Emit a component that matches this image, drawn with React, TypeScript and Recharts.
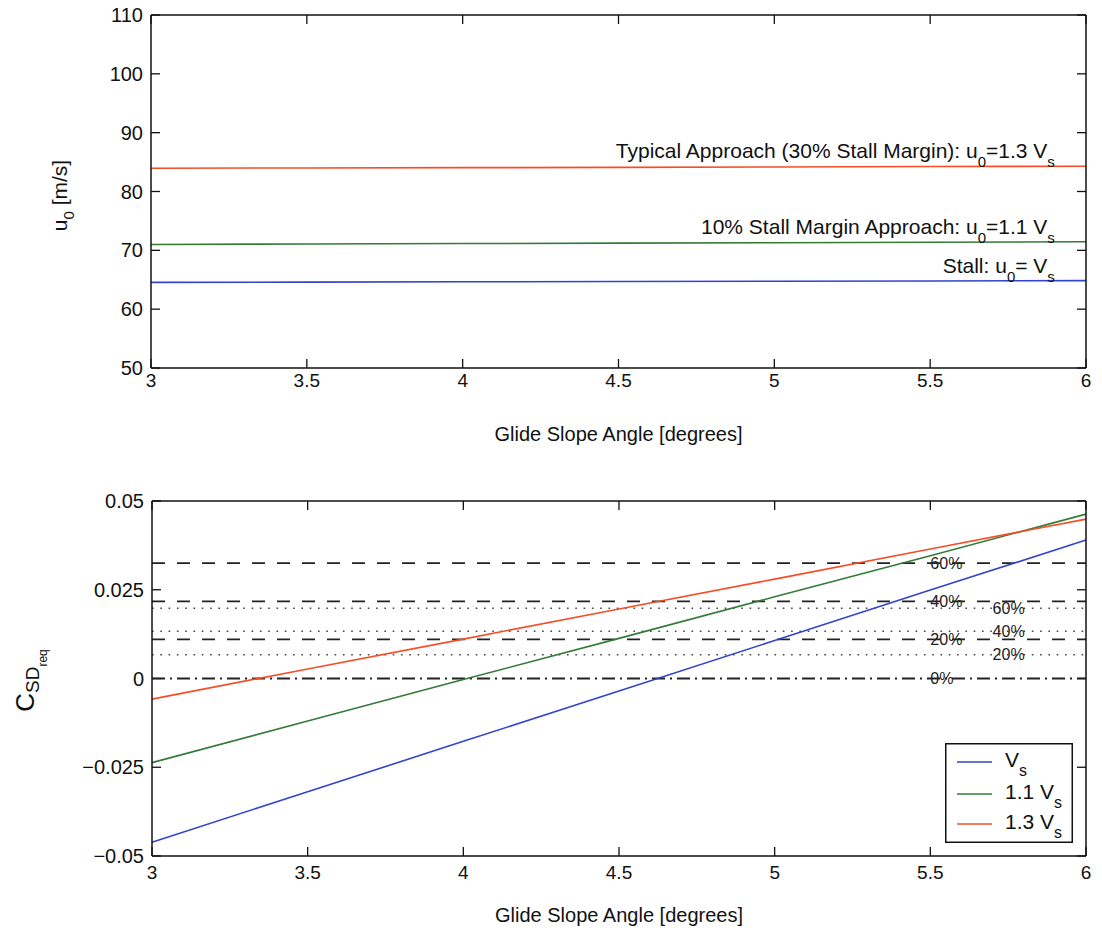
import React from 'react';
import { LineChart, Line, XAxis, YAxis, ReferenceLine, ReferenceDot, Legend } from 'recharts';

// ---------- data ----------
const glideSlope = [3, 3.5, 4, 4.5, 5, 5.5, 6];
const xTicks = [3, 3.5, 4, 4.5, 5, 5.5, 6];

const u0Stall = [64.55, 64.6, 64.65, 64.7, 64.75, 64.8, 64.85];
const u0Margin10 = [71.0, 71.08, 71.15, 71.22, 71.3, 71.38, 71.45];
const u0Typical = [83.95, 84.0, 84.05, 84.1, 84.17, 84.24, 84.3];
const u0Ticks = [50, 60, 70, 80, 90, 100, 110];

const csdVs = [-0.0461, -0.0319, -0.0177, -0.0035, 0.0107, 0.0249, 0.039];
const csd11Vs = [-0.0237, -0.012, -0.0003, 0.0113, 0.023, 0.0346, 0.0463];
const csd13Vs = [-0.0058, 0.0027, 0.0111, 0.0196, 0.028, 0.0365, 0.0449];
const csdTicks = [-0.05, -0.025, 0, 0.025, 0.05];
const csdTickLabels = ['\u22120.05', '\u22120.025', '0', '0.025', '0.05'];

const dashedLevels = [0.0325, 0.0217, 0.011];
const dashedLabels = ['60%', '40%', '20%'];
const dashDotLevels = [0];
const dashDotLabels = ['0%'];
const dottedLevels = [0.0198, 0.0133, 0.0067];
const dottedLabels = ['60%', '40%', '20%'];

const seriesNames = ['Vs', '1.1 Vs', '1.3 Vs'];

const typicalText: Array<[string, boolean]> = [['Typical Approach (30% Stall Margin): u', false], ['0', true], ['=1.3 V', false], ['s', true]];
const margin10Text: Array<[string, boolean]> = [['10% Stall Margin Approach: u', false], ['0', true], ['=1.1 V', false], ['s', true]];
const stallText: Array<[string, boolean]> = [['Stall: u', false], ['0', true], ['= V', false], ['s', true]];
const annotationX = 5.9;
const solidLabelX = 5.5;
const dottedLabelX = 5.7;

// ---------- styles ----------
const FONT = '"Liberation Sans", Arial, Helvetica, sans-serif';
const BLUE = '#3343cc';
const GREEN = '#347a38';
const RED = '#f54e26';
const AXIS = '#111';
const TICK_LEN = 9;
const X_DOMAIN: [number, number] = [3, 6];

const topData = glideSlope.map((g, i) => ({ g, stall: u0Stall[i], m10: u0Margin10[i], typ: u0Typical[i] }));
const botData = glideSlope.map((g, i) => ({ g, vs: csdVs[i], v11: csd11Vs[i], v13: csd13Vs[i] }));

const subText = (parts: Array<[string, boolean]>, size: number, subSize: number, shift: number) => {
  let prev = false;
  return parts.map(([t, sub], i) => {
    const dy = sub === prev ? 0 : sub ? shift : -shift;
    prev = sub;
    return (
      <tspan key={i} dy={dy} fontSize={sub ? subSize : size}>
        {t}
      </tspan>
    );
  });
};

const annotation = (parts: Array<[string, boolean]>) => (props: any) => {
  const vb = props.viewBox || {};
  const x = (vb.x || 0) + (vb.width || 0) / 2;
  const y = (vb.y || 0) + (vb.height || 0) / 2 - 8;
  return (
    <text x={x} y={y} textAnchor="end" fill="#111" fontFamily={FONT} fontSize={21}>
      {subText(parts, 21, 15, 9)}
    </text>
  );
};

const pctLabel = (txt: string) => (props: any) => {
  const vb = props.viewBox || {};
  const x = (vb.x || 0) + (vb.width || 0) / 2;
  const y = (vb.y || 0) + (vb.height || 0) / 2;
  return (
    <text x={x} y={y} dy="0.36em" textAnchor="start" fill="#222" fontFamily={FONT} fontSize={16}>
      {txt}
    </text>
  );
};

const xLabel = (offset: number) => (props: any) => {
  const vb = props.viewBox || {};
  return (
    <text x={vb.x + vb.width / 2} y={vb.y + offset} textAnchor="middle" fill="#111" fontFamily={FONT} fontSize={20}>
      Glide Slope Angle [degrees]
    </text>
  );
};

const u0Label = (props: any) => {
  const vb = props.viewBox || {};
  const x = vb.x + vb.width - 84;
  const y = vb.y + vb.height / 2 + 4;
  return (
    <text x={x} y={y} transform={`rotate(-90, ${x}, ${y})`} textAnchor="middle" fill="#111" fontFamily={FONT} fontSize={21}>
      {subText([['u', false], ['0', true], [' [m/s]', false]], 21, 15, 7)}
    </text>
  );
};

const csdLabel = (props: any) => {
  const vb = props.viewBox || {};
  const x = vb.x + vb.width - 118;
  const y = vb.y + vb.height / 2 + 2;
  return (
    <text x={x} y={y} transform={`rotate(-90, ${x}, ${y})`} textAnchor="middle" fill="#111" fontFamily={FONT} fontSize={26}>
      <tspan>C</tspan>
      <tspan dy={5} fontSize={19}>SD</tspan>
      <tspan dy={8} fontSize={12}>req</tspan>
    </text>
  );
};

const legendContent = (props: any) => {
  const payload = (props && props.payload) || [];
  const rows = [19, 51, 81];
  const ordered = seriesNames
    .map((n) => payload.find((p: any) => String(p.value) === n))
    .filter(Boolean);
  return (
    <svg width={128} height={100} style={{ display: 'block', fontFamily: FONT }}>
      <rect x={0.75} y={0.75} width={126.5} height={98.5} fill="#fff" stroke={AXIS} strokeWidth={1.5} />
      {ordered.map((p: any, i: number) => {
        const name: string = String(p.value);
        const main = name.slice(0, -1);
        const sub = name.slice(-1);
        const ly = rows[i];
        return (
          <g key={i}>
            <line x1={12} x2={47} y1={ly} y2={ly} stroke={p.color} strokeWidth={1.6} />
            <text x={60} y={ly + 5} fontSize={21} fill="#111">
              {main}
              <tspan dy={9} fontSize={16}>{sub}</tspan>
            </text>
          </g>
        );
      })}
    </svg>
  );
};

const axisLineStyle = { stroke: AXIS, strokeWidth: 1.5 };
const xTickStyle = { fontSize: 19, fill: '#111', fontFamily: FONT };
const yTickStyle = { fontSize: 20, fill: '#111', fontFamily: FONT };
const fmtCsd = (v: number) => csdTickLabels[csdTicks.indexOf(v)] ?? String(v);

// Axes: labelled bottom/left, plus plain top/right lines to close the box
const boxAxes = (yDomain: [number, number], yTicks: number[], xMargin: number, yFmt: ((v: number) => string) | undefined, yLabel: any, xLabelOffset: number) => [
  <XAxis
    key="xb"
    dataKey="g"
    type="number"
    domain={X_DOMAIN}
    ticks={xTicks}
    height={1}
    tickSize={0}
    tickMargin={xMargin}
    tickLine={false}
    tick={xTickStyle}
    axisLine={axisLineStyle}
    label={xLabel(xLabelOffset)}
  />,
  <XAxis
    key="xt"
    xAxisId="top"
    orientation="top"
    mirror
    dataKey="g"
    type="number"
    domain={X_DOMAIN}
    ticks={xTicks}
    height={1}
    tick={false}
    tickLine={false}
    axisLine={axisLineStyle}
  />,
  <YAxis
    key="yl"
    type="number"
    domain={yDomain}
    ticks={yTicks}
    width={1}
    tickSize={0}
    tickMargin={8}
    tickLine={false}
    tick={yTickStyle}
    tickFormatter={yFmt}
    axisLine={axisLineStyle}
    label={yLabel}
  />,
  <YAxis
    key="yr"
    yAxisId="right"
    orientation="right"
    mirror
    type="number"
    domain={yDomain}
    ticks={yTicks}
    width={1}
    tick={false}
    tickLine={false}
    axisLine={axisLineStyle}
  />,
];

// MATLAB-style inward tick marks on all four sides, as short reference segments
const inwardTicks = (yDomain: [number, number], yTicks: number[], plotW: number, plotH: number) => {
  const [y0, y1] = yDomain;
  const [x0, x1] = X_DOMAIN;
  const dy = ((y1 - y0) * TICK_LEN) / plotH;
  const dx = ((x1 - x0) * TICK_LEN) / plotW;
  const common = { stroke: AXIS, strokeWidth: 1.3, ifOverflow: 'visible' as const };
  const out: any[] = [];
  xTicks.forEach((t, i) => {
    out.push(<ReferenceLine key={'tb' + i} segment={[{ x: t, y: y0 }, { x: t, y: y0 + dy }]} {...common} />);
    out.push(<ReferenceLine key={'tt' + i} segment={[{ x: t, y: y1 }, { x: t, y: y1 - dy }]} {...common} />);
  });
  yTicks.forEach((t, i) => {
    out.push(<ReferenceLine key={'tl' + i} segment={[{ x: x0, y: t }, { x: x0 + dx, y: t }]} {...common} />);
    out.push(<ReferenceLine key={'tr' + i} segment={[{ x: x1, y: t }, { x: x1 - dx, y: t }]} {...common} />);
  });
  return out;
};

export default function App() {
  return (
    <div style={{ position: 'absolute', left: 0, top: 0, width: 1102, height: 935, background: '#fff', fontFamily: FONT }}>
      <div style={{ position: 'absolute', left: 0, top: 0 }}>
        <LineChart width={1102} height={460} data={topData} margin={{ top: 15, right: 16, bottom: 91, left: 150 }}>
          {boxAxes([50, 110], u0Ticks, 6, undefined, u0Label, 73)}
          {inwardTicks([50, 110], u0Ticks, 935, 353)}
          <Line dataKey="typ" stroke={RED} strokeWidth={1.6} dot={false} activeDot={false} isAnimationActive={false} />
          <Line dataKey="m10" stroke={GREEN} strokeWidth={1.6} dot={false} activeDot={false} isAnimationActive={false} />
          <Line dataKey="stall" stroke={BLUE} strokeWidth={1.6} dot={false} activeDot={false} isAnimationActive={false} />
          <ReferenceDot x={annotationX} y={u0Typical[u0Typical.length - 1]} r={0} fill="none" stroke="none" label={annotation(typicalText)} />
          <ReferenceDot x={annotationX} y={u0Margin10[u0Margin10.length - 1]} r={0} fill="none" stroke="none" label={annotation(margin10Text)} />
          <ReferenceDot x={annotationX} y={u0Stall[u0Stall.length - 1]} r={0} fill="none" stroke="none" label={annotation(stallText)} />
        </LineChart>
      </div>
      <div style={{ position: 'absolute', left: 0, top: 460 }}>
        <LineChart width={1102} height={475} data={botData} margin={{ top: 41, right: 16, bottom: 78, left: 151 }}>
          {boxAxes([-0.05, 0.05], csdTicks, 10, fmtCsd, csdLabel, 66)}
          {inwardTicks([-0.05, 0.05], csdTicks, 934, 355)}
          {dashedLevels.map((lv, i) => (
            <ReferenceLine key={'d' + i} y={lv} stroke="#222" strokeWidth={1.8} strokeDasharray="13 12" />
          ))}
          {dashDotLevels.map((lv, i) => (
            <ReferenceLine key={'dd' + i} y={lv} stroke="#222" strokeWidth={1.8} strokeDasharray="13 5 2 5" />
          ))}
          {dottedLevels.map((lv, i) => (
            <ReferenceLine key={'o' + i} y={lv} stroke="#444" strokeWidth={1.6} strokeDasharray="1.6 6.7" />
          ))}
          <Line name={seriesNames[0]} dataKey="vs" stroke={BLUE} strokeWidth={1.6} dot={false} activeDot={false} isAnimationActive={false} />
          <Line name={seriesNames[1]} dataKey="v11" stroke={GREEN} strokeWidth={1.6} dot={false} activeDot={false} isAnimationActive={false} />
          <Line name={seriesNames[2]} dataKey="v13" stroke={RED} strokeWidth={1.6} dot={false} activeDot={false} isAnimationActive={false} />
          {dashedLevels.map((lv, i) => (
            <ReferenceDot key={'dl' + i} x={solidLabelX} y={lv} r={0} fill="none" stroke="none" label={pctLabel(dashedLabels[i])} />
          ))}
          {dashDotLevels.map((lv, i) => (
            <ReferenceDot key={'ddl' + i} x={solidLabelX} y={lv} r={0} fill="none" stroke="none" label={pctLabel(dashDotLabels[i])} />
          ))}
          {dottedLevels.map((lv, i) => (
            <ReferenceDot key={'ol' + i} x={dottedLabelX} y={lv} r={0} fill="none" stroke="none" label={pctLabel(dottedLabels[i])} />
          ))}
          <Legend
            layout="vertical"
            align="center"
            verticalAlign="middle"
            wrapperStyle={{ left: 945, top: 283, width: 128, height: 100 }}
            content={legendContent}
          />
        </LineChart>
      </div>
    </div>
  );
}
